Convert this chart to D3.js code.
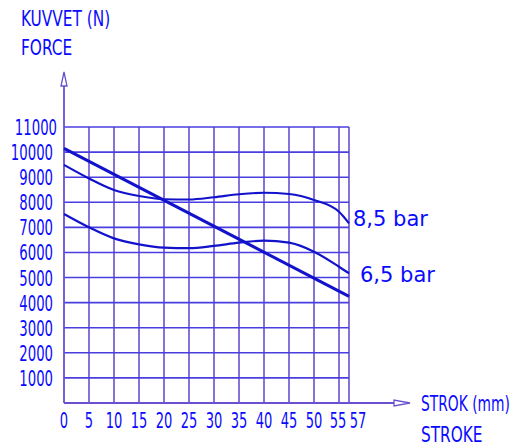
<!DOCTYPE html>
<html>
<head>
<meta charset="utf-8">
<script src="https://cdn.jsdelivr.net/npm/d3@7"></script>
<style>
  body { margin: 0; background: #fff; }
  .narrow { font-family: "DejaVu Sans Condensed", "DejaVu Sans", sans-serif; fill: #0a0aff; }
  .lbl { font-family: "DejaVu Sans", sans-serif; fill: #0a0aff; }
</style>
</head>
<body>
<div id="chart"></div>
<script>
// stroke positions (mm) where curves were read
var strokes = [0, 5, 10, 15, 20, 25, 30, 35, 40, 45, 50, 55, 57];
var force85 = [9490, 8950, 8490, 8250, 8120, 8110, 8200, 8320, 8380, 8330, 8090, 7620, 7160];
var force65 = [7530, 7000, 6560, 6320, 6190, 6170, 6260, 6390, 6470, 6390, 6030, 5430, 5170];
// straight spring line
var lineStrokes = [0, 57];
var lineForce = [10150, 4250];

var xTicks = [0, 5, 10, 15, 20, 25, 30, 35, 40, 45, 50, 55, 57];
var yTicks = [1000, 2000, 3000, 4000, 5000, 6000, 7000, 8000, 9000, 10000, 11000];
var seriesLabels = ["8,5 bar", "6,5 bar"];

var width = 515, height = 448;
var gridCol = "#6a4fd0", curveCol = "#1212cc";

var svg = d3.select("#chart")
    .append("svg")
    .attr("width", width)
    .attr("height", height);

var x = d3.scaleLinear().domain([0, 57]).range([64, 349]);
var y = d3.scaleLinear().domain([0, 11000]).range([403, 127]);

// grid
svg.append("g").selectAll("line.v")
    .data(xTicks.slice(1))
    .enter().append("line")
    .attr("x1", d => x(d)).attr("x2", d => x(d))
    .attr("y1", y(0)).attr("y2", y(11000))
    .attr("stroke", gridCol).attr("stroke-width", 1.6);

svg.append("g").selectAll("line.h")
    .data(yTicks)
    .enter().append("line")
    .attr("x1", x(0)).attr("x2", x(57))
    .attr("y1", d => y(d)).attr("y2", d => y(d))
    .attr("stroke", "#4a3ee0").attr("stroke-width", 1.6);

// axes with open arrow heads
svg.append("line")
    .attr("x1", x(0)).attr("x2", x(0))
    .attr("y1", y(0)).attr("y2", 86)
    .attr("stroke", gridCol).attr("stroke-width", 1.8);
svg.append("path")
    .attr("d", "M" + x(0) + ",72 L" + (x(0) - 3) + ",86 L" + (x(0) + 3) + ",86 Z")
    .attr("fill", "#fff").attr("stroke", gridCol).attr("stroke-width", 1.3);

svg.append("line")
    .attr("x1", x(0)).attr("x2", 394)
    .attr("y1", y(0)).attr("y2", y(0))
    .attr("stroke", gridCol).attr("stroke-width", 1.8);
svg.append("path")
    .attr("d", "M410," + y(0) + " L394," + (y(0) - 3) + " L394," + (y(0) + 3) + " Z")
    .attr("fill", "#fff").attr("stroke", gridCol).attr("stroke-width", 1.3);

// tick labels
function narrowText(tx, ty, str, size, anchor, sx) {
    svg.append("text")
        .attr("class", "narrow")
        .attr("transform", "translate(" + tx + "," + ty + ") scale(" + sx + ",1)")
        .attr("text-anchor", anchor)
        .style("font-size", size + "px")
        .text(str);
}

yTicks.forEach(function(d) {
    narrowText(d == 11000 ? 57 : 53, y(d) + 8, d, 22, "end", 0.67);
});
xTicks.forEach(function(d) {
    var px = x(d);
    if (d == 57) px = 358;
    if (d == 55) px = 338;
    narrowText(px, 428, d, 22, "middle", 0.66);
});

narrowText(21, 26, "KUVVET (N)", 22, "start", 0.775);
narrowText(21, 55, "FORCE", 22, "start", 0.775);
narrowText(421, 411, "STROK (mm)", 22, "start", 0.70);
narrowText(421, 442, "STROKE", 22, "start", 0.775);

// curves
var curve = d3.line()
    .x(function(d, i) { return x(strokes[i]); })
    .y(function(d) { return y(d); })
    .curve(d3.curveMonotoneX);

svg.append("path").datum(force85)
    .attr("d", curve)
    .attr("fill", "none").attr("stroke", curveCol).attr("stroke-width", 2.2);
svg.append("path").datum(force65)
    .attr("d", curve)
    .attr("fill", "none").attr("stroke", curveCol).attr("stroke-width", 2.2);

var straight = d3.line()
    .x(function(d, i) { return x(lineStrokes[i]); })
    .y(function(d) { return y(d); });
svg.append("path").datum(lineForce)
    .attr("d", straight)
    .attr("fill", "none").attr("stroke", curveCol).attr("stroke-width", 3);

// series labels
svg.append("text").attr("class", "lbl")
    .attr("x", 353).attr("y", 226)
    .style("font-size", "21px")
    .text(seriesLabels[0]);
svg.append("text").attr("class", "lbl")
    .attr("x", 360).attr("y", 282)
    .style("font-size", "21px")
    .text(seriesLabels[1]);
</script>
</body>
</html>
